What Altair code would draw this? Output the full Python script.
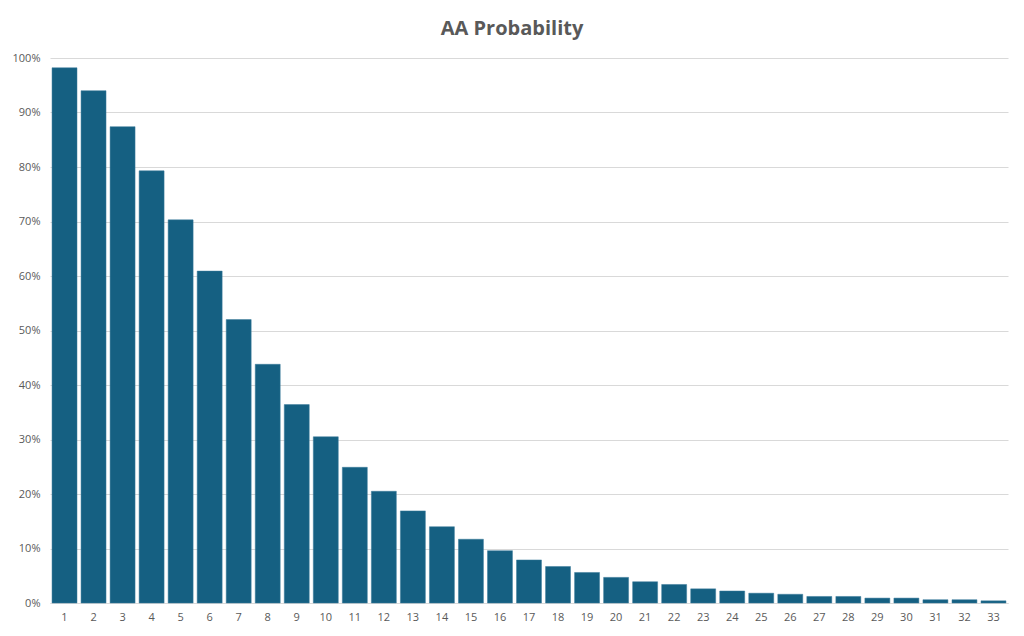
import altair as alt
import pandas as pd

categories = list(range(1, 34))
probability = [98.2, 94.0, 87.4, 79.3, 70.3, 60.9, 52.0, 43.8, 36.4, 30.5,
               24.9, 20.5, 16.9, 14.0, 11.7, 9.6, 7.9, 6.7, 5.6, 4.7,
               3.9, 3.4, 2.6, 2.2, 1.8, 1.6, 1.2, 1.2, 0.9, 0.9,
               0.6, 0.6, 0.4]
y_ticks = [0, 0.1, 0.2, 0.3, 0.4, 0.5, 0.6, 0.7, 0.8, 0.9, 1.0]

df = pd.DataFrame({"n": categories, "p": [v / 100 for v in probability]})

FONT = "Open Sans"
GRAY = "#595959"

chart = alt.Chart(df).mark_bar(color="#156082", stroke="#3a7a9a", strokeWidth=0.5).encode(
    x=alt.X("n:O", title=None,
            scale=alt.Scale(paddingInner=0.14, paddingOuter=0.07),
            axis=alt.Axis(labelAngle=0, ticks=False, domainColor="#D9D9D9",
                          labelColor=GRAY, labelFont=FONT, labelFontSize=11,
                          labelPadding=8, grid=False)),
    y=alt.Y("p:Q", title=None,
            scale=alt.Scale(domain=[0, 1], nice=False),
            axis=alt.Axis(values=y_ticks, format=".0%", ticks=False, domain=False,
                          gridColor="#D9D9D9", labelColor=GRAY, labelFont=FONT,
                          labelFontSize=11, labelPadding=10)),
).properties(
    width=958,
    height=545,
    title=alt.TitleParams("AA Probability", font=FONT, fontSize=20, fontWeight="bold",
                          color=GRAY, anchor="middle", offset=13, dx=-17),
    autosize=alt.AutoSizeParams(type="none"),
    padding={"left": 42, "top": 50, "right": 8, "bottom": 25},
).configure_view(stroke=None)

chart.save("out.html", embed_options={"renderer": "svg", "actions": False})
